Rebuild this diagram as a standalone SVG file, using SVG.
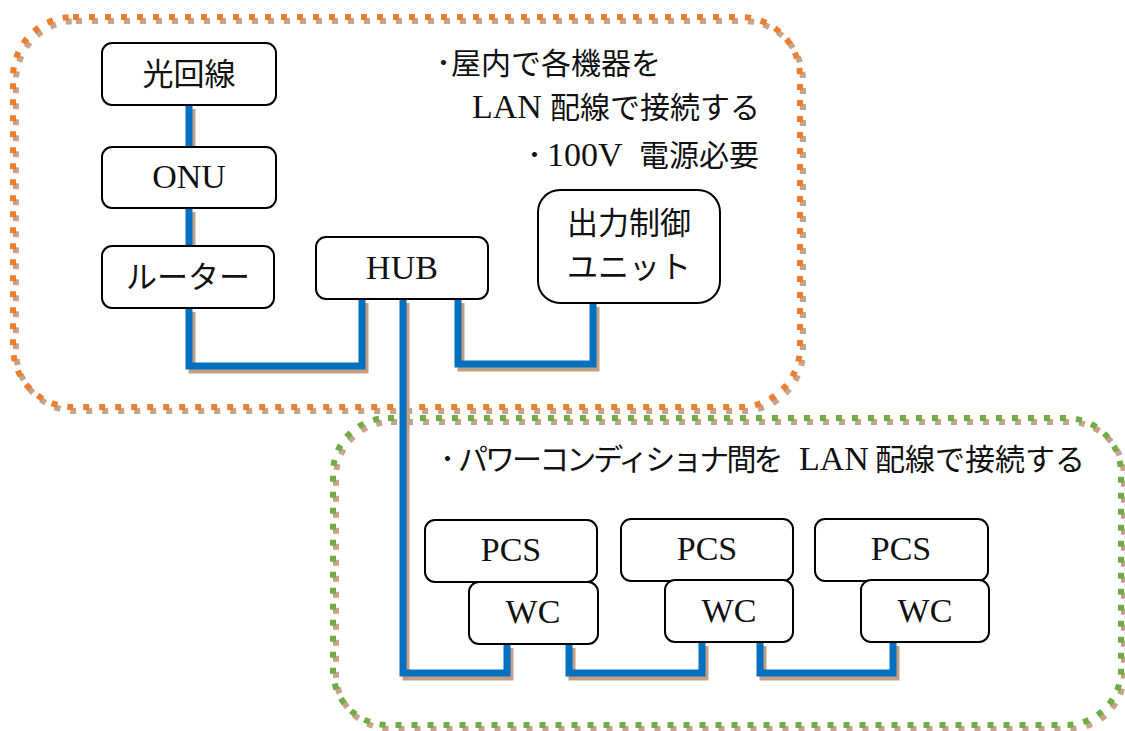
<svg xmlns="http://www.w3.org/2000/svg" width="1125" height="731" viewBox="0 0 1125 731">
<style>
.t{font-family:"Liberation Serif","Noto Sans CJK JP",serif;font-size:30px;fill:#111}
.lat{font-family:"Liberation Serif","Noto Sans CJK JP",serif;font-size:34px}
.box{fill:#fff;stroke:#000;stroke-width:2}
.bshadow{fill:none;stroke:#C7A38A;stroke-width:6;stroke-dasharray:6 10}
.orange{fill:none;stroke:#ED7D31;stroke-width:6;stroke-dasharray:6 10}
.green{fill:none;stroke:#70AD47;stroke-width:6;stroke-dasharray:6 10}
.wire{fill:none;stroke:#0070C0;stroke-width:7;stroke-linejoin:miter}
.wshadow{fill:none;stroke:#C49F86;stroke-width:7;stroke-linejoin:miter}
</style>
<g id="area-indoor">
<rect class="bshadow" x="16" y="21" width="787" height="390" rx="60"/>
<rect class="orange" x="13" y="17" width="787" height="390" rx="60"/>
</g>
<g id="area-pcs">
<rect class="bshadow" x="336" y="422" width="788" height="307" rx="55"/>
<rect class="green" x="333" y="418" width="788" height="307" rx="55"/>
</g>
<g id="notes">
<text class="t" x="436" y="74">･屋内で各機器を</text>
<text class="t" y="118"><tspan x="472" class="lat">LAN </tspan><tspan x="550">配線で接続する</tspan></text>
<text class="t" y="166"><tspan x="527">･</tspan><tspan x="547" class="lat">100V </tspan><tspan x="639">電源必要</tspan></text>
<text class="t" y="470"><tspan x="440">･</tspan><tspan x="458" textLength="330" lengthAdjust="spacing">パワーコンディショナ間を </tspan><tspan x="799" class="lat">LAN </tspan><tspan x="875">配線で接続する</tspan></text>
</g>
<g id="connectors">
<g transform="translate(3,4)">
<path class="wshadow" d="M189 105 V147"/>
<path class="wshadow" d="M189 208 V246"/>
<path class="wshadow" d="M189 308 V366 H362 V299"/>
<path class="wshadow" d="M403 299 V673 H507 V644"/>
<path class="wshadow" d="M458 299 V364 H593 V303"/>
<path class="wshadow" d="M569 644 V673 H702 V642"/>
<path class="wshadow" d="M760 642 V673 H893 V642"/>
</g>
<path class="wire" d="M189 105 V147"/>
<path class="wire" d="M189 208 V246"/>
<path class="wire" d="M189 308 V366 H362 V299"/>
<path class="wire" d="M403 299 V673 H507 V644"/>
<path class="wire" d="M458 299 V364 H593 V303"/>
<path class="wire" d="M569 644 V673 H702 V642"/>
<path class="wire" d="M760 642 V673 H893 V642"/>
</g>
<g id="hikari"><rect class="box" x="102" y="43" width="174" height="62" rx="10"/><text class="t" x="189" y="85" text-anchor="middle" style="font-size:31px">光回線</text></g>
<g id="onu"><rect class="box" x="102" y="147" width="174" height="61" rx="10"/><text class="t lat" x="189" y="188" text-anchor="middle">ONU</text></g>
<g id="router"><rect class="box" x="102" y="246" width="172" height="62" rx="10"/><text class="t" x="188" y="288" text-anchor="middle" style="font-size:31px">ルーター</text></g>
<g id="hub"><rect class="box" x="316" y="237" width="172" height="62" rx="10"/><text class="t lat" x="402" y="279" text-anchor="middle">HUB</text></g>
<g id="control"><rect class="box" x="538" y="190" width="182" height="113" rx="22"/><text class="t" text-anchor="middle" style="font-size:31px"><tspan x="629" y="234">出力制御</tspan><tspan x="629" y="278">ユニット</tspan></text></g>
<g id="pcs1"><rect class="box" x="425" y="520" width="172" height="62" rx="10"/><text class="t lat" x="511" y="561" text-anchor="middle">PCS</text></g>
<g id="wc1"><rect class="box" x="469" y="582" width="129" height="62" rx="10"/><text class="t lat" x="533" y="623" text-anchor="middle">WC</text></g>
<g id="pcs2"><rect class="box" x="621" y="519" width="172" height="62" rx="10"/><text class="t lat" x="707" y="560" text-anchor="middle">PCS</text></g>
<g id="wc2"><rect class="box" x="665" y="580" width="128" height="62" rx="10"/><text class="t lat" x="729" y="622" text-anchor="middle">WC</text></g>
<g id="pcs3"><rect class="box" x="815" y="519" width="173" height="62" rx="10"/><text class="t lat" x="901" y="560" text-anchor="middle">PCS</text></g>
<g id="wc3"><rect class="box" x="861" y="580" width="128" height="62" rx="10"/><text class="t lat" x="925" y="622" text-anchor="middle">WC</text></g>
</svg>
